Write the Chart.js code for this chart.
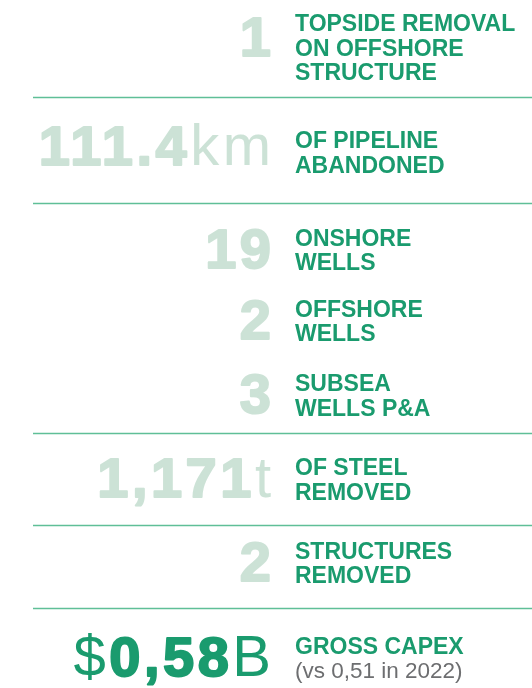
<!DOCTYPE html>
<html>
<head>
<meta charset="utf-8">
<script src="https://cdn.jsdelivr.net/npm/chart.js@4.4.1/dist/chart.umd.min.js"></script>
<style>
  html, body { margin: 0; padding: 0; background: #ffffff; }
  #wrap { width: 532px; height: 688px; position: relative; }
</style>
</head>
<body>
<div id="wrap"><canvas id="chart"></canvas></div>
<script>
// rows of the figure, top to bottom
const rowKeys = ['topsides', 'pipeline', 'onshore', 'offshore', 'subsea', 'steel', 'structures', 'capex'];
const values = [1, 111.4, 19, 2, 3, 1171, 2, 0.58];
const valueText = ['1', '111.4', '19', '2', '3', '1,171', '2', '0,58'];
const prefixText = ['', '', '', '', '', '', '', '$'];
const suffixText = ['', 'km', '', '', '', 't', '', 'B'];
const labelLines = [
  ['TOPSIDE REMOVAL', 'ON OFFSHORE', 'STRUCTURE'],
  ['OF PIPELINE', 'ABANDONED'],
  ['ONSHORE', 'WELLS'],
  ['OFFSHORE', 'WELLS'],
  ['SUBSEA', 'WELLS P&A'],
  ['OF STEEL', 'REMOVED'],
  ['STRUCTURES', 'REMOVED'],
  ['GROSS CAPEX']
];
const noteLines = ['', '', '', '', '', '', '', '(vs 0,51 in 2022)'];
const dividerAfter = ['topsides', 'pipeline', 'subsea', 'steel', 'structures'];

// layout tweaks (px) so rows sit like the original
const rowNudge = [-5, 15, 28, 14, 4, 3, 2, 12];
const numNudge = [0, -5, 0, 0, 0, 0, 0, 0];
const divNudge = [-3, 2, 0, 0, -4, 4, -2, 0];

const FONT = '"Liberation Sans", Arial, Helvetica, sans-serif';
const numX = 271;
const labelX = 295;
const lineH = 24.5;
const labelSize = 23;
const numSize = 56;
const numGap = 3.5;

const infoPlugin = {
  id: 'infoText',
  afterDatasetsDraw(chart) {
    const ctx = chart.ctx;
    const y = chart.scales.y;
    const area = chart.chartArea;
    const centers = rowKeys.map((k, i) => y.getPixelForValue(i) + rowNudge[i]);

    ctx.save();
    // dividers
    ctx.strokeStyle = '#5fbf97';
    ctx.lineWidth = 1.5;
    rowKeys.forEach((k, i) => {
      if (!dividerAfter.includes(k) || i === rowKeys.length - 1) return;
      const dy = Math.round((centers[i] + centers[i + 1]) / 2 + divNudge[i]) + 0.5;
      ctx.beginPath();
      ctx.moveTo(33, dy);
      ctx.lineTo(area.right, dy);
      ctx.stroke();
    });

    rowKeys.forEach((k, i) => {
      const c = centers[i];
      const lines = labelLines[i].concat(noteLines[i] ? [noteLines[i]] : []);
      const cap = labelSize * 0.716;
      const first = c + cap / 2 - (lines.length - 1) * lineH / 2;

      ctx.textAlign = 'left';
      ctx.textBaseline = 'alphabetic';
      ctx.letterSpacing = '0px';
      lines.forEach((t, j) => {
        const isNote = j >= labelLines[i].length;
        ctx.font = (isNote ? '' : 'bold ') + (isNote ? 22.5 : labelSize) + 'px ' + FONT;
        ctx.fillStyle = isNote ? '#6d6e70' : '#1a9b6e';
        ctx.fillText(t, labelX, first + j * lineH);
      });

      // big figure
      const base = (lines.length > 2 ? first + lineH : c + 18) + numNudge[i];
      const col = k === 'capex' ? '#1a9b6e' : '#cce2d6';
      ctx.fillStyle = col;
      ctx.strokeStyle = col;
      ctx.lineJoin = 'round';
      ctx.lineWidth = 2;
      ctx.textAlign = 'right';
      ctx.letterSpacing = numGap + 'px';
      let x = numX + numGap;
      if (suffixText[i]) {
        ctx.font = (numSize + 2) + 'px ' + FONT;
        ctx.fillText(suffixText[i], x, base);
        x -= ctx.measureText(suffixText[i]).width;
      }
      ctx.font = 'bold ' + numSize + 'px ' + FONT;
      ctx.fillText(valueText[i], x, base);
      ctx.strokeText(valueText[i], x, base);
      x -= ctx.measureText(valueText[i]).width;
      if (prefixText[i]) {
        ctx.font = (numSize + 2) + 'px ' + FONT;
        ctx.fillText(prefixText[i], x, base);
      }
    });
    ctx.restore();
  }
};

new Chart(document.getElementById('chart'), {
  type: 'bar',
  data: {
    labels: rowKeys,
    datasets: [{
      label: 'figures',
      data: values,
      backgroundColor: 'rgba(0,0,0,0)',
      borderWidth: 0
    }]
  },
  options: {
    indexAxis: 'y',
    responsive: true,
    maintainAspectRatio: false,
    animation: false,
    layout: { padding: { top: 10, right: 0, bottom: 0, left: 0 } },
    plugins: { legend: { display: false }, tooltip: { enabled: false } },
    scales: {
      x: { display: false },
      y: { display: false }
    }
  },
  plugins: [infoPlugin]
});
</script>
</body>
</html>
